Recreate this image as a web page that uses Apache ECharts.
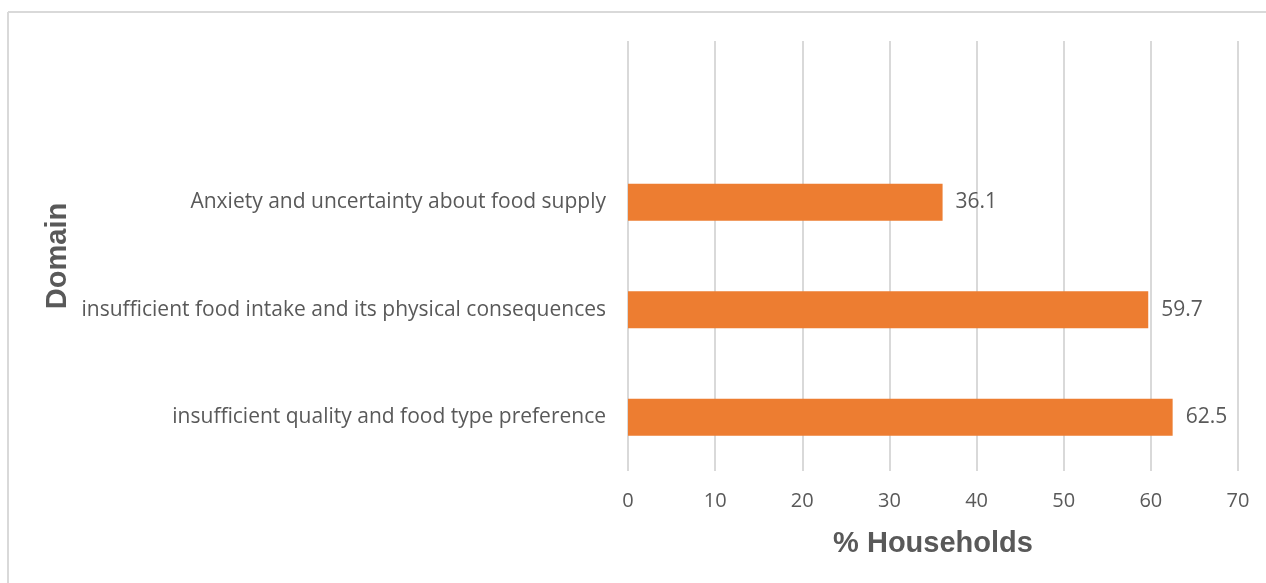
<!DOCTYPE html>
<html><head><meta charset="utf-8">
<script src="https://cdn.jsdelivr.net/npm/echarts@6/dist/echarts.min.js"></script>
<style>html,body{margin:0;padding:0;background:#fff}#c{width:1266px;height:583px}</style>
</head><body><div id="c"></div>
<script>
var categories = [
  "insufficient quality and food type preference",
  "insufficient food intake and its physical consequences",
  "Anxiety and uncertainty about food supply",
  ""
];
var values = [62.5, 59.7, 36.1, null];
var xTicks = [0, 10, 20, 30, 40, 50, 60, 70];

var chart = echarts.init(document.getElementById('c'));
chart.setOption({
  animation: false,
  backgroundColor: '#ffffff',
  graphic: [
    {type: 'line', shape: {x1: 8, y1: 12, x2: 1266, y2: 12}, style: {stroke: '#d9d9d9', lineWidth: 2}},
    {type: 'line', shape: {x1: 8, y1: 12, x2: 8, y2: 583}, style: {stroke: '#d9d9d9', lineWidth: 2}}
  ],
  grid: {left: 628, right: 28, top: 41, bottom: 112, containLabel: false},
  xAxis: {
    type: 'value', min: xTicks[0], max: xTicks[xTicks.length - 1], interval: 10,
    name: '% Households', nameLocation: 'middle', nameGap: 58,
    nameTextStyle: {fontFamily: 'Liberation Sans Narrow, Liberation Sans', fontWeight: 'bold', fontSize: 29, color: '#595959'},
    axisLine: {show: false}, axisTick: {show: false},
    axisLabel: {fontFamily: 'Open Sans', fontSize: 20, color: '#595959', margin: 20},
    splitLine: {show: true, lineStyle: {color: '#d9d9d9', width: 2}}
  },
  yAxis: {
    type: 'category', data: categories,
    name: 'Domain', nameLocation: 'middle', nameGap: 556, nameRotate: 90,
    nameTextStyle: {fontFamily: 'Liberation Sans Narrow, Liberation Sans', fontWeight: 'bold', fontSize: 29, color: '#595959'},
    axisLine: {show: false}, axisTick: {show: false},
    axisLabel: {fontFamily: 'Open Sans', fontSize: 21, color: '#595959', margin: 22},
    splitLine: {show: false}
  },
  series: [{
    type: 'bar', data: values, barWidth: 37,
    itemStyle: {color: '#ed7d31'},
    label: {show: true, position: 'right', distance: 13, fontFamily: 'Open Sans', fontSize: 21, color: '#595959'}
  }]
});
</script></body></html>
